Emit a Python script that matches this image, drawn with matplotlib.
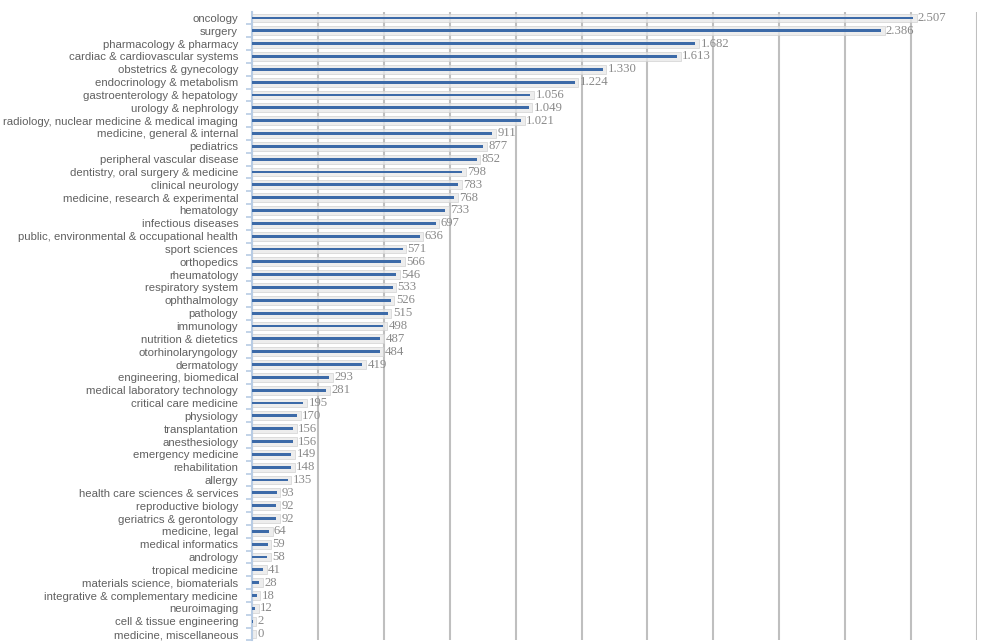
#!/usr/bin/env python

import matplotlib.pyplot as plt
from matplotlib.ticker import MultipleLocator, FixedLocator
import numpy as np

plt.rcParams['font.family'] = 'Liberation Sans'

# values
categories = [
    'oncology', 'surgery', 'pharmacology & pharmacy', 'cardiac & cardiovascular systems',
    'obstetrics & gynecology', 'endocrinology & metabolism', 'gastroenterology & hepatology',
    'urology & nephrology', 'radiology, nuclear medicine & medical imaging',
    'medicine, general & internal', 'pediatrics', 'peripheral vascular disease',
    'dentistry, oral surgery & medicine', 'clinical neurology', 'medicine, research & experimental',
    'hematology', 'infectious diseases', 'public, environmental & occupational health',
    'sport sciences', 'orthopedics', 'rheumatology', 'respiratory system', 'ophthalmology',
    'pathology', 'immunology', 'nutrition & dietetics', 'otorhinolaryngology', 'dermatology',
    'engineering, biomedical', 'medical laboratory technology', 'critical care medicine',
    'physiology', 'transplantation', 'anesthesiology', 'emergency medicine', 'rehabilitation',
    'allergy', 'health care sciences & services', 'reproductive biology',
    'geriatrics & gerontology', 'medicine, legal', 'medical informatics', 'andrology',
    'tropical medicine', 'materials science, biomaterials', 'integrative & complementary medicine',
    'neuroimaging', 'cell & tissue engineering', 'medicine, miscellaneous',
]
values = [
    2507, 2386, 1682, 1613, 1330, 1224, 1056, 1049, 1021, 911, 877, 852, 798, 783, 768,
    733, 697, 636, 571, 566, 546, 533, 526, 515, 498, 487, 484, 419, 293, 281, 195,
    170, 156, 156, 149, 148, 135, 93, 92, 92, 64, 59, 58, 41, 28, 18, 12, 2, 0,
]

fig = plt.figure(figsize=(9.97, 6.43), dpi=100)
ax = fig.add_axes([0.2528, 0.004, 0.727, 0.978])

y = np.arange(len(categories))
pad = 14  # grey box sticks out a bit past the blue line

# soft grey box with a blue line in it
ax.barh(y, np.array(values) + pad, height=0.68, color='#e9e9e9',
        edgecolor='#d0d0d0', linewidth=0.6, alpha=0.8, zorder=2)
ax.barh(y, values, height=0.22, color='#3c6aa8', zorder=3)

for yi, v in zip(y, values):
    ax.annotate(f'{v:,}'.replace(',', '.'), (v + pad, yi), xytext=(1, 0),
                textcoords='offset points', va='center', ha='left',
                family='Liberation Serif', fontsize=9.2, color='#8a8a8a', zorder=4)

ax.set_ylim(len(categories) - 0.5, -0.5)
ax.set_xlim(0, 2750)
ax.set_yticks(y)
ax.set_yticklabels(categories, fontsize=8.2, color='#606060')
ax.yaxis.set_minor_locator(FixedLocator(y + 0.5))
ax.tick_params(axis='y', which='major', length=0, pad=10)
ax.tick_params(axis='y', which='minor', length=4, color='#b8cce4', width=1.2)

ax.xaxis.set_major_locator(MultipleLocator(250))
ax.tick_params(axis='x', length=0, labelbottom=False)
ax.grid(axis='x', color='#bfbfbf', linewidth=1.5, zorder=0)
ax.set_axisbelow(True)

for s in ['top', 'right', 'bottom']:
    ax.spines[s].set_visible(False)
ax.spines['left'].set_color('#b8cce4')
ax.spines['left'].set_linewidth(1.5)

plt.savefig('out.png', dpi=100)
